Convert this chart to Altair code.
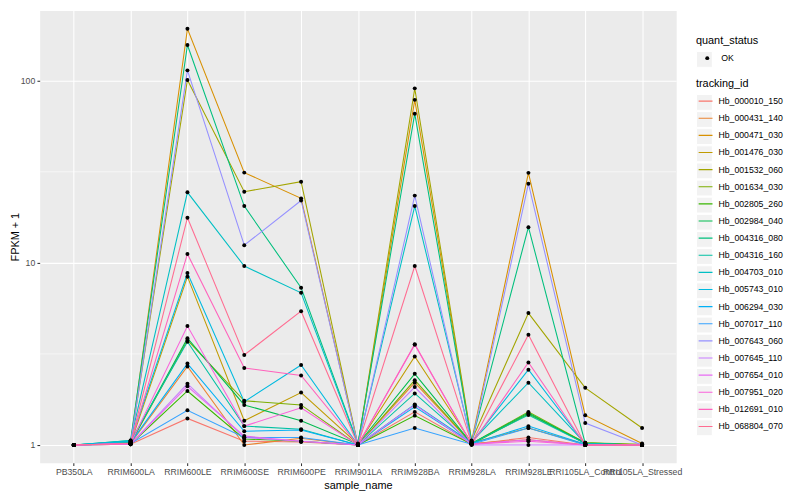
import altair as alt
import pandas as pd

samples = ["PB350LA", "RRIM600LA", "RRIM600LE", "RRIM600SE", "RRIM600PE", "RRIM901LA",
           "RRIM928BA", "RRIM928LA", "RRIM928LE", "RRI105LA_Control", "RRI105LA_Stressed"]

tracking_ids = ["Hb_000010_150", "Hb_000431_140", "Hb_000471_030", "Hb_001476_030",
                "Hb_001532_060", "Hb_001634_030", "Hb_002805_260", "Hb_002984_040",
                "Hb_004316_080", "Hb_004316_160", "Hb_004703_010", "Hb_005743_010",
                "Hb_006294_030", "Hb_007017_110", "Hb_007643_060", "Hb_007645_110",
                "Hb_007654_010", "Hb_007951_020", "Hb_012691_010", "Hb_068804_070"]

colors = ["#F8766D", "#EA8331", "#D89000", "#C09B00", "#A3A500", "#7CAE00", "#39B600",
          "#00BB4E", "#00BF7D", "#00C1A3", "#00BFC4", "#00BAE0", "#00B0F6", "#35A2FF",
          "#9590FF", "#C77CFF", "#E76BF3", "#FA62DB", "#FF62BC", "#FF6C91"]

quant_levels = ["OK"]

# FPKM + 1 per tracking_id, in the order of `samples`
Hb_000010_150 = [1.0, 1.01, 1.40, 1.05, 1.04, 1.0, 1.52, 1.01, 1.10, 1.0, 1.0]
Hb_000431_140 = [1.0, 1.02, 2.70, 1.0, 1.09, 1.0, 2.20, 1.02, 1.07, 1.0, 1.0]
Hb_000471_030 = [1.0, 1.03, 193.0, 31.3, 22.6, 1.0, 78.5, 1.05, 31.2, 1.455, 1.02]
Hb_001476_030 = [1.0, 1.02, 8.4, 1.36, 1.94, 1.01, 3.06, 1.03, 1.24, 1.01, 1.0]
Hb_001532_060 = [1.0, 1.03, 101.0, 24.6, 27.9, 1.0, 90.8, 1.06, 5.3, 2.06, 1.24]
Hb_001634_030 = [1.0, 1.02, 3.77, 1.75, 1.66, 1.0, 2.27, 1.02, 1.52, 1.03, 1.01]
Hb_002805_260 = [1.0, 1.01, 1.98, 1.08, 1.05, 1.0, 1.45, 1.01, 1.48, 1.03, 1.0]
Hb_002984_040 = [1.0, 1.03, 3.86, 1.66, 1.36, 1.01, 2.46, 1.02, 1.50, 1.02, 1.0]
Hb_004316_080 = [1.0, 1.06, 157.0, 20.5, 7.3, 1.02, 65.9, 1.04, 15.7, 1.02, 1.0]
Hb_004316_160 = [1.0, 1.05, 3.69, 1.27, 1.22, 1.0, 1.92, 1.02, 1.46, 1.02, 1.0]
Hb_004703_010 = [1.0, 1.06, 24.4, 9.6, 6.85, 1.01, 20.5, 1.04, 2.2, 1.02, 1.0]
Hb_005743_010 = [1.0, 1.05, 8.8, 1.73, 2.75, 1.0, 1.67, 1.03, 2.59, 1.01, 1.0]
Hb_006294_030 = [1.0, 1.03, 2.80, 1.19, 1.21, 1.0, 1.62, 1.02, 1.27, 1.01, 1.0]
Hb_007017_110 = [1.0, 1.02, 1.55, 1.10, 1.10, 1.0, 1.24, 1.01, 1.24, 1.0, 1.0]
Hb_007643_060 = [1.0, 1.02, 114.0, 12.5, 22.0, 1.0, 23.4, 1.02, 27.2, 1.32, 1.0]
Hb_007645_110 = [1.0, 1.01, 2.17, 1.10, 1.05, 1.0, 2.08, 1.0, 1.0, 1.0, 1.0]
Hb_007654_010 = [1.0, 1.01, 2.10, 1.12, 1.05, 1.0, 1.66, 1.01, 1.07, 1.0, 1.0]
Hb_007951_020 = [1.0, 1.02, 4.50, 1.27, 1.60, 1.0, 3.55, 1.01, 1.05, 1.0, 1.0]
Hb_012691_010 = [1.0, 1.02, 11.2, 2.65, 2.41, 1.0, 3.58, 1.01, 2.84, 1.0, 1.0]
Hb_068804_070 = [1.0, 1.02, 17.7, 3.12, 5.43, 1.0, 9.6, 1.02, 4.03, 1.0, 1.0]

series = [Hb_000010_150, Hb_000431_140, Hb_000471_030, Hb_001476_030, Hb_001532_060,
          Hb_001634_030, Hb_002805_260, Hb_002984_040, Hb_004316_080, Hb_004316_160,
          Hb_004703_010, Hb_005743_010, Hb_006294_030, Hb_007017_110, Hb_007643_060,
          Hb_007645_110, Hb_007654_010, Hb_007951_020, Hb_012691_010, Hb_068804_070]

y_ticks = [1, 10, 100]
minor_breaks = [3.1623, 31.623]

rows = []
for tid, vals in zip(tracking_ids, series):
    for s, v in zip(samples, vals):
        rows.append({"tracking_id": tid, "sample_name": s, "fpkm": v, "quant_status": "OK"})
df = pd.DataFrame(rows)
minor_df = pd.DataFrame({"v": minor_breaks})

FONT = "Liberation Sans"
KEY_BG = "#F2F2F2"
KEY_H = 17.0
KEY_SQ = 256
ROW_PAD = 0.3
LEG_X = 663

y_scale = alt.Scale(type="log", domain=[0.798, 243.0], nice=False, zero=False)

x_enc = alt.X("sample_name:N", sort=samples,
              scale=alt.Scale(type="point", padding=0.6),
              axis=alt.Axis(title="sample_name", labelAngle=0, labelOverlap=False,
                            labelBound=False, labelFlush=False, titlePadding=3))
y_enc = alt.Y("fpkm:Q", scale=y_scale,
              axis=alt.Axis(title="FPKM + 1", values=y_ticks, format="d", titlePadding=0))

# grey key backgrounds of the legends (ggplot-style), drawn as legends of empty layers
bg_domain = [t + " " for t in tracking_ids]
key_bg_color = alt.Chart(df).transform_filter("false").mark_square(filled=True).encode(
    color=alt.Color("tracking_id:N",
                    scale=alt.Scale(domain=bg_domain, range=[KEY_BG] * len(bg_domain)),
                    legend=alt.Legend(title=None, orient="none", legendX=LEG_X,
                                      legendY=84.34, symbolType="square", symbolSize=KEY_SQ,
                                      symbolStrokeColor="white", symbolStrokeWidth=1,
                                      symbolOpacity=1, clipHeight=KEY_H, rowPadding=ROW_PAD,
                                      labelExpr="''", padding=0, symbolOffset=0))
)
key_bg_fill = alt.Chart(df).transform_filter("false").mark_square(filled=True).encode(
    fill=alt.Fill("quant_status:N",
                  scale=alt.Scale(domain=[q + " " for q in quant_levels], range=[KEY_BG]),
                  legend=alt.Legend(title=None, orient="none", legendX=LEG_X,
                                    legendY=40.94, symbolType="square", symbolSize=KEY_SQ,
                                    symbolStrokeColor="white", symbolStrokeWidth=1,
                                    symbolOpacity=1, clipHeight=KEY_H, rowPadding=0,
                                    labelExpr="''", padding=0, symbolOffset=0))
)

minor = alt.Chart(minor_df).mark_rule(color="white", strokeWidth=0.55).encode(
    y=alt.Y("v:Q", scale=y_scale)
)

lines = alt.Chart(df).mark_line(strokeWidth=1.07).encode(
    x=x_enc, y=y_enc,
    stroke=alt.Stroke("tracking_id:N",
                      scale=alt.Scale(domain=tracking_ids, range=colors),
                      legend=alt.Legend(title="tracking_id", orient="none", legendX=LEG_X,
                                        legendY=68.8, symbolType="stroke", symbolSize=196,
                                        symbolStrokeWidth=1.07, rowPadding=ROW_PAD,
                                        clipHeight=KEY_H, titlePadding=3.24, symbolOffset=1.7,
                                        labelOffset=5, padding=0)),
)

points = alt.Chart(df).mark_point(filled=True, size=16, color="black", opacity=1).encode(
    x=x_enc, y=y_enc,
    shape=alt.Shape("quant_status:N", scale=alt.Scale(domain=quant_levels, range=["circle"]),
                    legend=alt.Legend(title="quant_status", orient="none", legendX=LEG_X,
                                      legendY=25.2, symbolSize=16, symbolFillColor="black",
                                      symbolStrokeColor="black", titlePadding=3.44,
                                      clipHeight=KEY_H, symbolOffset=7, labelOffset=9.7,
                                      padding=0)),
)

chart = alt.layer(key_bg_color, key_bg_fill, minor, lines, points).properties(
    width=643, height=457,
    autosize=alt.AutoSizeParams(type="none"),
    padding={"left": 32, "top": 0, "right": 117, "bottom": 35},
).configure(font=FONT).configure_view(
    fill="#EBEBEB", stroke="transparent"
).configure_axis(
    grid=True, gridColor="white", gridWidth=1.07, domain=False,
    tickColor="#333333", tickSize=2.75, tickWidth=1.07,
    labelColor="#4D4D4D", labelFontSize=8.8, labelPadding=2.2, labelFont=FONT,
    titleFontSize=11, titleFontWeight="normal", titleColor="black", titleFont=FONT,
).configure_legend(
    titleFontSize=11, titleFontWeight="normal", titleColor="black", titleFont=FONT,
    labelFontSize=8.8, labelColor="black", labelFont=FONT,
)

chart.save("out.html", embed_options={"renderer": "svg", "actions": False})
